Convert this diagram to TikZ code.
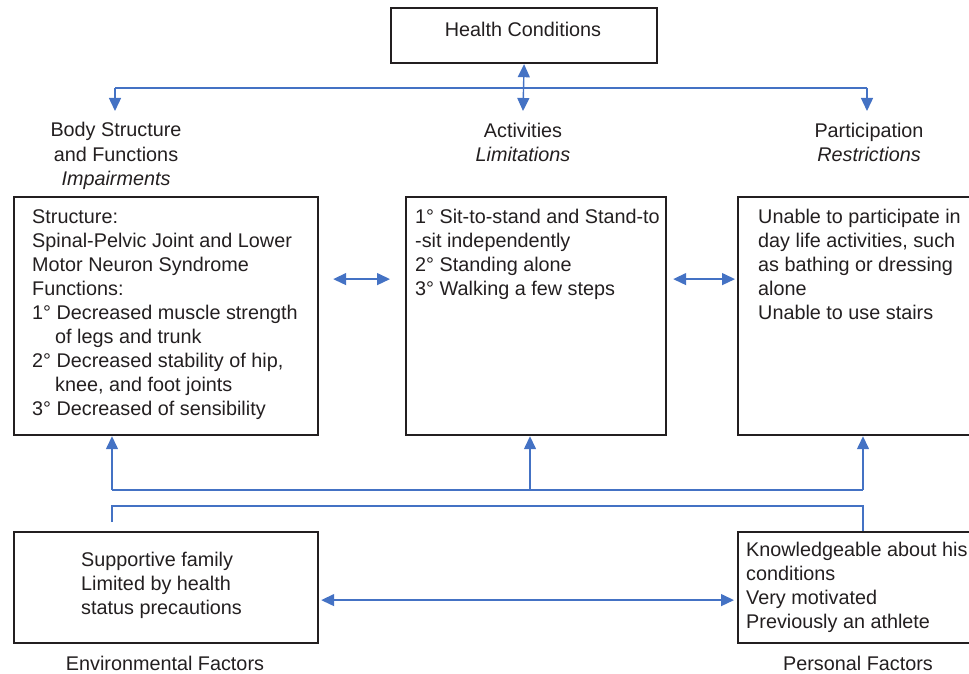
\documentclass[tikz,border=0pt]{standalone}
\usepackage{fontspec}
\setmainfont{Liberation Sans}
\usetikzlibrary{arrows.meta}
\definecolor{ablue}{HTML}{4472C4}
\definecolor{bk}{HTML}{231F20}
\newcommand\fsz{\fontsize{19.8}{24}\selectfont}
\begin{document}
\begin{tikzpicture}[x=1pt,y=-1pt,
  box/.style={draw=bk,line width=2.2pt,inner sep=0,anchor=north west},
  txt/.style={anchor=base west,align=left,inner sep=0,font=\fsz,text=bk},
  lbl/.style={anchor=base,align=center,inner sep=0,font=\fsz,text=bk},
  conn/.style={draw=ablue,line width=1.4pt},
  tip/.style={-{Triangle[length=13pt,width=12pt]}},
  dtip/.style={{Triangle[length=13pt,width=12pt]}-{Triangle[length=13pt,width=12pt]}}]
\clip (0,0) rectangle (969,674);
\useasboundingbox (0,0) rectangle (969,674);
% boxes
\node[box,minimum width=266pt,minimum height=55pt] (hc) at (390,7) {};
\node[box,minimum width=304pt,minimum height=238pt] (bs) at (13,196) {};
\node[box,minimum width=260pt,minimum height=238pt] (act) at (405,196) {};
\node[box,minimum width=250pt,minimum height=238pt] (par) at (737,196) {};
\node[box,minimum width=304pt,minimum height=111pt] (env) at (13,531) {};
\node[box,minimum width=250pt,minimum height=111pt] (pf) at (737,531) {};
% texts (base anchor = baseline of last line)
\node[lbl] (hct) at (523,37) {Health Conditions};
\node[lbl] (bsl) at (116,185) {Body Structure\\and Functions\\\textit{Impairments}};
\node[lbl] (actl) at (523,161) {Activities\\\textit{Limitations}};
\node[lbl] (parl) at (869,161) {Participation\\\textit{Restrictions}};
\node[txt] (bst) at (32,415) {Structure:\\
Spinal-Pelvic Joint and Lower\\
Motor Neuron Syndrome\\
Functions:\\
1° Decreased muscle strength\\
\hspace*{23pt}of legs and trunk\\
2° Decreased stability of hip,\\
\hspace*{23pt}knee, and foot joints\\
3° Decreased of sensibility};
\node[txt] (actt) at (415,295) {1° Sit-to-stand and Stand-to\\-sit independently\\2° Standing alone\\3° Walking a few steps};
\node[txt] (part) at (758,319) {Unable to participate in\\day life activities, such\\as bathing or dressing\\alone\\Unable to use stairs};
\node[txt] (envt) at (81,614) {Supportive family\\Limited by health\\status precautions};
\node[txt] (pft) at (746,628) {Knowledgeable about his\\conditions\\Very motivated\\Previously an athlete};
\node[lbl] (envl) at (165,670) {Environmental Factors};
\node[lbl] (pfl) at (858,670) {Personal Factors};
% top connectors
\coordinate (tl) at (115,88);
\coordinate (tr) at (867,88);
\coordinate (ta1) at (115,111);
\coordinate (ta2) at (523,111);
\coordinate (ta3) at (867,111);
\draw[conn] (tl) -- (tr);
\draw[conn,tip] (tl) -- (ta1);
\draw[conn,tip] (tr) -- (ta3);
\draw[conn,dtip] (hc.south) -- (ta2);
% horizontal double arrows
\draw[conn,dtip,shorten <=14pt,shorten >=15pt] ([yshift=37pt]bs.east) -- ([yshift=37pt]act.west);
\draw[conn,dtip,shorten <=6pt,shorten >=2pt] ([yshift=37pt]act.east) -- ([yshift=37pt]par.west);
\draw[conn,dtip,shorten <=2pt,shorten >=3pt] ([yshift=-12.5pt]env.east) -- ([yshift=-12.5pt]pf.west);
% bottom connectors
\coordinate (b1) at (112,490);
\coordinate (b2) at (530,490);
\coordinate (b3) at (863,490);
\coordinate (c1) at (112,522);
\coordinate (c2) at (112,506);
\coordinate (c3) at (863,506);
\draw[conn] (b1) -- (b3);
\draw[conn,tip] (b1) -- (b1 |- bs.south);
\draw[conn,tip] (b2) -- (b2 |- act.south);
\draw[conn,tip] (b3) -- (b3 |- par.south);
\draw[conn] (c1) -- (c2) -- (c3) -- (c3 |- pf.north);
\end{tikzpicture}
\end{document}
